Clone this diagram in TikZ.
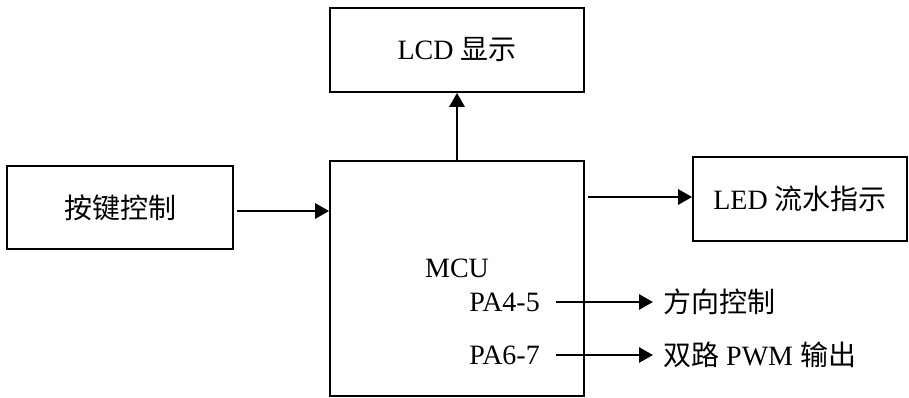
\documentclass[tikz,border=0pt]{standalone}
\usepackage{fontspec}
\setmainfont{Liberation Serif}
\newfontfamily\cjk{Noto Sans CJK SC}
\usetikzlibrary{arrows.meta}
\begin{document}
\begin{tikzpicture}[x=1pt,y=-1pt,
  blk/.style={draw,line width=1.7pt,inner sep=0pt,font=\fontsize{28}{30}\selectfont},
  lbl/.style={inner sep=0pt,font=\fontsize{28}{30}\selectfont},
  conn/.style={line width=2.8pt,-{Triangle[length=14pt,width=15pt]}}]
\useasboundingbox (0,0) rectangle (909,398);
\node[blk,minimum width=254pt,minimum height=84pt] (lcd) at (457,50) {LCD {\cjk 显示}};
\node[blk,minimum width=254pt,minimum height=235pt] (mcu) at (457,278.5) {};
\node[blk,minimum width=226pt,minimum height=83pt] (key) at (120,207.5) {\cjk 按键控制};
\node[blk,minimum width=214pt,minimum height=84pt] (led) at (800,199) {LED {\cjk 流水指示}};
\node[lbl] (mcut) at (457,268) {MCU};
\node[lbl,anchor=east] (pa45) at (540,302) {PA4-5};
\node[lbl,anchor=east] (pa67) at (540,355) {PA6-7};
\node[lbl,anchor=west] (dir) at (663,302) {\cjk 方向控制};
\node[lbl,anchor=west] (pwm) at (663,355) {{\cjk 双路} PWM {\cjk 输出}};
\draw[conn] (mcu.north) -- (lcd.south);
\draw[conn] ([xshift=3pt]key.east |- 0,211) -- (mcu.west |- 0,211);
\draw[conn] ([xshift=3pt]mcu.east |- 0,197) -- (led.west |- 0,197);
\draw[conn] ([xshift=16pt]pa45.east) -- ([xshift=-10pt]dir.west);
\draw[conn] ([xshift=16pt]pa67.east) -- ([xshift=-10pt]pwm.west);
\end{tikzpicture}
\end{document}
